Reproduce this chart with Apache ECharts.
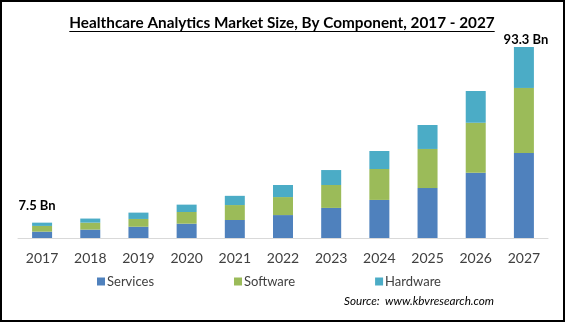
<!DOCTYPE html>
<html><head><meta charset="utf-8">
<script src="https://cdn.jsdelivr.net/npm/echarts@6/dist/echarts.min.js"></script>
<style>
html,body{margin:0;padding:0;background:#fff;}
#c{position:absolute;left:0;top:0;width:565px;height:322px;}
#b{position:absolute;left:0;top:0;width:565px;height:322px;box-sizing:border-box;border:2px solid #000;pointer-events:none;}
</style></head>
<body><div id="c"></div><div id="b"></div>
<script>
const years = ['2017','2018','2019','2020','2021','2022','2023','2024','2025','2026','2027'];
const services = [3.1, 4.1, 5.5, 7.0, 8.8, 11.2, 14.7, 18.6, 24.4, 31.9, 41.5];
const software = [2.8, 3.4, 3.8, 5.7, 7.3, 8.8, 11.2, 15.1, 19.1, 24.4, 31.8];
const hardware = [1.6, 2.0, 3.1, 3.6, 4.5, 5.9, 7.3, 8.8, 11.7, 15.5, 20.0];
const totalLabels = ['7.5 Bn','','','','','','','','','','93.3 Bn'];
const titleText = 'Healthcare Analytics Market Size, By Component, 2017 - 2027';

const chart = echarts.init(document.getElementById('c'), null, {renderer:'canvas'});
const font = 'Lato';
const titleFont = 'bold 15.3px Lato';
const cv = document.createElement('canvas').getContext('2d');
cv.font = titleFont;
const tw = cv.measureText(titleText).width;
const tx = 282 - tw / 2;

const labelDist = {0: 10, 10: 1};
const hwData = hardware.map((v,i)=>({
  value: v,
  label: {show: totalLabels[i] !== '', distance: labelDist[i] || 5, offset: i===0 ? [-5,0] : [2,0]}
}));
chart.setOption({
  animation: false,
  textStyle: {fontFamily: font},
  graphic: [
    {type:'text', left: tx, top: 16, style:{text: titleText, font: titleFont, fill:'#000'}},
    {type:'line', shape:{x1:tx, y1:31.5, x2:tx+tw, y2:31.5}, style:{stroke:'#000', lineWidth:1}}
  ],
  grid: {left: 18, right: 17, top: 33.3, bottom: 84},
  legend: {
    data: ['Services','Software','Hardware'],
    left: 97, top: 275, padding: 0, icon: 'rect', itemWidth: 8, itemHeight: 8, itemGap: 80,
    textStyle: {fontSize: 13, color: '#404040', fontFamily: font, padding:[0,0,0,-3]}
  },
  xAxis: {
    type: 'category', data: years,
    axisLine: {lineStyle: {color: '#d9d9d9'}},
    axisTick: {show: false},
    axisLabel: {fontSize: 14, color: '#404040', margin: 13, fontFamily: font}
  },
  yAxis: {type: 'value', min: 0, max: 100, show: false, splitLine:{show:false}},
  series: [
    {name:'Services', type:'bar', stack:'t', data: services, barWidth: 20, itemStyle:{color:'#4F81BD'}},
    {name:'Software', type:'bar', stack:'t', data: software, barWidth: 20, itemStyle:{color:'#9BBB59'}},
    {name:'Hardware', type:'bar', stack:'t', data: hwData, barWidth: 20, itemStyle:{color:'#4BACC6'},
     label: {show:false, position:'top', formatter: p => totalLabels[p.dataIndex],
             fontSize: 13, fontWeight:'bold', color:'#000', fontFamily: font}}
  ]
});
</script>
<div style="position:absolute;left:344px;top:293px;font:italic 11.7px Lato, sans-serif;color:#000;white-space:nowrap;">Source:&nbsp; www.kbvresearch.com</div>
</body></html>
